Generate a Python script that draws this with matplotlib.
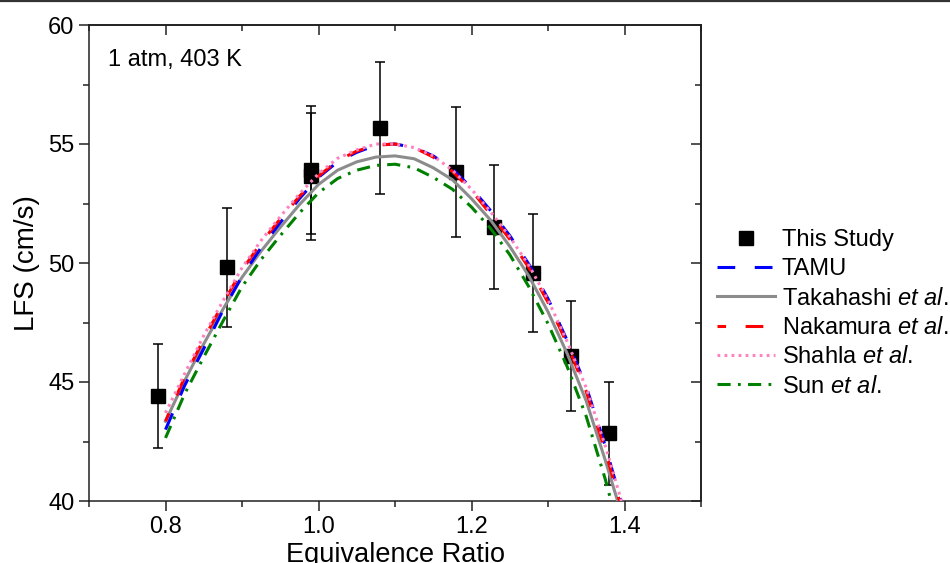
import matplotlib
matplotlib.use("Agg")
import matplotlib.pyplot as plt
from matplotlib.ticker import MultipleLocator
from matplotlib.lines import Line2D

plt.rcParams['font.family'] = ['Liberation Sans', 'DejaVu Sans']
plt.rcParams['mathtext.fontset'] = 'custom'
plt.rcParams['mathtext.rm'] = 'Liberation Sans'
plt.rcParams['mathtext.it'] = 'Liberation Sans:italic'

# ---- experimental data (This Study) ----
exp_phi = [0.79, 0.88, 0.99, 0.99, 1.08, 1.18, 1.23, 1.28, 1.33, 1.38]
exp_lfs = [44.41, 49.82, 53.92, 53.64, 55.66, 53.82, 51.50, 49.58, 46.10, 42.84]
exp_err = [2.20, 2.50, 2.69, 2.67, 2.77, 2.72, 2.60, 2.48, 2.30, 2.15]

# ---- model curves ----
grid_phi = [0.80, 0.825, 0.85, 0.875, 0.90, 0.925, 0.95, 0.975, 1.00, 1.025,
            1.05, 1.075, 1.10, 1.125, 1.15, 1.175, 1.20, 1.225, 1.25, 1.275,
            1.30, 1.325, 1.35, 1.375]

tamu_phi = grid_phi + [1.3955]
tamu_lfs = [43.0, 44.85, 46.4, 48.0, 49.45, 50.65, 51.7, 52.7, 53.6, 54.25,
            54.65, 54.95, 55.0, 54.85, 54.5, 53.95, 53.15, 52.2, 51.15, 49.95,
            48.5, 46.75, 44.8, 42.3, 40.0]

takahashi_phi = grid_phi + [1.391]
takahashi_lfs = [43.35, 45.05, 46.6, 48.05, 49.4, 50.5, 51.5, 52.45, 53.3, 53.9,
                 54.25, 54.45, 54.5, 54.38, 54.0, 53.5, 52.7, 51.8, 50.7, 49.45,
                 47.95, 46.2, 44.2, 41.7, 40.0]

nakamura_phi = grid_phi + [1.3935]
nakamura_lfs = [43.35, 45.2, 46.8, 48.3, 49.7, 50.85, 51.85, 52.8, 53.65, 54.3,
                54.7, 54.95, 55.0, 54.85, 54.45, 53.85, 53.05, 52.05, 51.0, 49.8,
                48.35, 46.6, 44.6, 42.1, 40.0]

shahla_phi = grid_phi + [1.396]
shahla_lfs = [43.7, 45.35, 46.95, 48.4, 49.8, 50.95, 51.95, 52.9, 53.75, 54.4,
              54.75, 55.0, 55.0, 54.85, 54.5, 53.9, 53.1, 52.15, 51.1, 49.9,
              48.45, 46.7, 44.75, 42.3, 40.0]

sun_phi = grid_phi + [1.3824]
sun_lfs = [42.65, 44.5, 46.05, 47.55, 49.0, 50.15, 51.15, 52.1, 52.95, 53.55,
           53.9, 54.1, 54.15, 54.0, 53.6, 53.1, 52.35, 51.45, 50.35, 49.0,
           47.45, 45.65, 43.55, 40.9, 40.0]

x_ticks = [0.8, 1.0, 1.2, 1.4]
y_ticks = [40, 45, 50, 55, 60]

fig = plt.figure(figsize=(9.5, 5.63), dpi=100)
ax = fig.add_axes([89/950, 1-501/563, (701-89)/950, (501-25)/563])

ax.errorbar(exp_phi, exp_lfs, yerr=exp_err, fmt='s', color='black',
            markersize=10, ecolor='black', elinewidth=1.1, capsize=3.5,
            capthick=1.1, zorder=2)

lw = 2.2
ax.plot(takahashi_phi, takahashi_lfs, color='#8c8c8c', lw=lw, ls='-',
        label=r'Takahashi $\mathit{et\ al.}$', zorder=3)
ax.plot(sun_phi, sun_lfs, color='#008000', lw=lw, ls=(0, (4.3, 2.4, 0.9, 2.4)),
        label=r'Sun $\mathit{et\ al.}$', zorder=3)
ax.plot(tamu_phi, tamu_lfs, color='#0000ff', lw=lw, ls=(0, (5.8, 6.4)),
        label='TAMU', zorder=4)
ax.plot(nakamura_phi, nakamura_lfs, color='#ff0000', lw=lw, ls=(3, (5.8, 6.4)),
        label=r'Nakamura $\mathit{et\ al.}$', zorder=4)
ax.plot(shahla_phi, shahla_lfs, color='#ff80c0', lw=lw, ls=(0, (0.9, 1.4)),
        label=r'Shahla $\mathit{et\ al.}$', zorder=5)

ax.set_xlim(0.7, 1.5)
ax.set_ylim(40, 60)
ax.set_xticks(x_ticks)
ax.set_yticks(y_ticks)
ax.xaxis.set_minor_locator(MultipleLocator(0.1))
ax.yaxis.set_minor_locator(MultipleLocator(2.5))
ax.tick_params(which='both', direction='out', top=False, right=False,
               labelsize=17, width=1.1, color='#222222')
ax.tick_params(which='major', length=7)
ax.tick_params(which='minor', length=4)
ax.set_xticklabels([f"{v:.1f}" for v in x_ticks])
ax.set_yticklabels([str(v) for v in y_ticks])

for s in ax.spines.values():
    s.set_linewidth(1.1)
    s.set_color('#222222')

secx = ax.secondary_xaxis('top')
secx.xaxis.set_major_locator(MultipleLocator(0.2))
secx.xaxis.set_minor_locator(MultipleLocator(0.1))
secx.tick_params(which='both', direction='in', labeltop=False, width=1.1, color='#222222')
secx.tick_params(which='major', length=7)
secx.tick_params(which='minor', length=4)
secx.spines['top'].set_linewidth(1.1)

secy = ax.secondary_yaxis('right')
secy.yaxis.set_major_locator(MultipleLocator(5))
secy.yaxis.set_minor_locator(MultipleLocator(2.5))
secy.tick_params(which='both', direction='in', labelright=False, width=1.1, color='#222222')
secy.tick_params(which='major', length=7)
secy.tick_params(which='minor', length=4)
secy.spines['right'].set_linewidth(1.1)

ax.set_xlabel('Equivalence Ratio', fontsize=19.5, labelpad=3)
ax.set_ylabel('LFS (cm/s)', fontsize=20, labelpad=6)

ax.text(19/612, (501-60)/476, '1 atm, 403 K', transform=ax.transAxes, fontsize=17,
        va='center', ha='left')

study_handle = Line2D([], [], marker='s', color='black', ls='none', markersize=10)
h, l = ax.get_legend_handles_labels()
order = ['TAMU', r'Takahashi $\mathit{et\ al.}$', r'Nakamura $\mathit{et\ al.}$',
         r'Shahla $\mathit{et\ al.}$', r'Sun $\mathit{et\ al.}$']
handles = [study_handle] + [h[l.index(o)] for o in order]
labels = ['This Study'] + order
fig.legend(handles, labels, loc='upper left', bbox_to_anchor=(717/950, 1-229/563),
           frameon=False, fontsize=17, handlelength=2.45, handletextpad=0.3,
           labelspacing=0.31, borderpad=0, borderaxespad=0)

fig.add_artist(Line2D([0, 1], [1 - 1.0/563, 1 - 1.0/563], transform=fig.transFigure,
                      color='#333333', lw=1.6))

fig.savefig('out.png', dpi=100)
